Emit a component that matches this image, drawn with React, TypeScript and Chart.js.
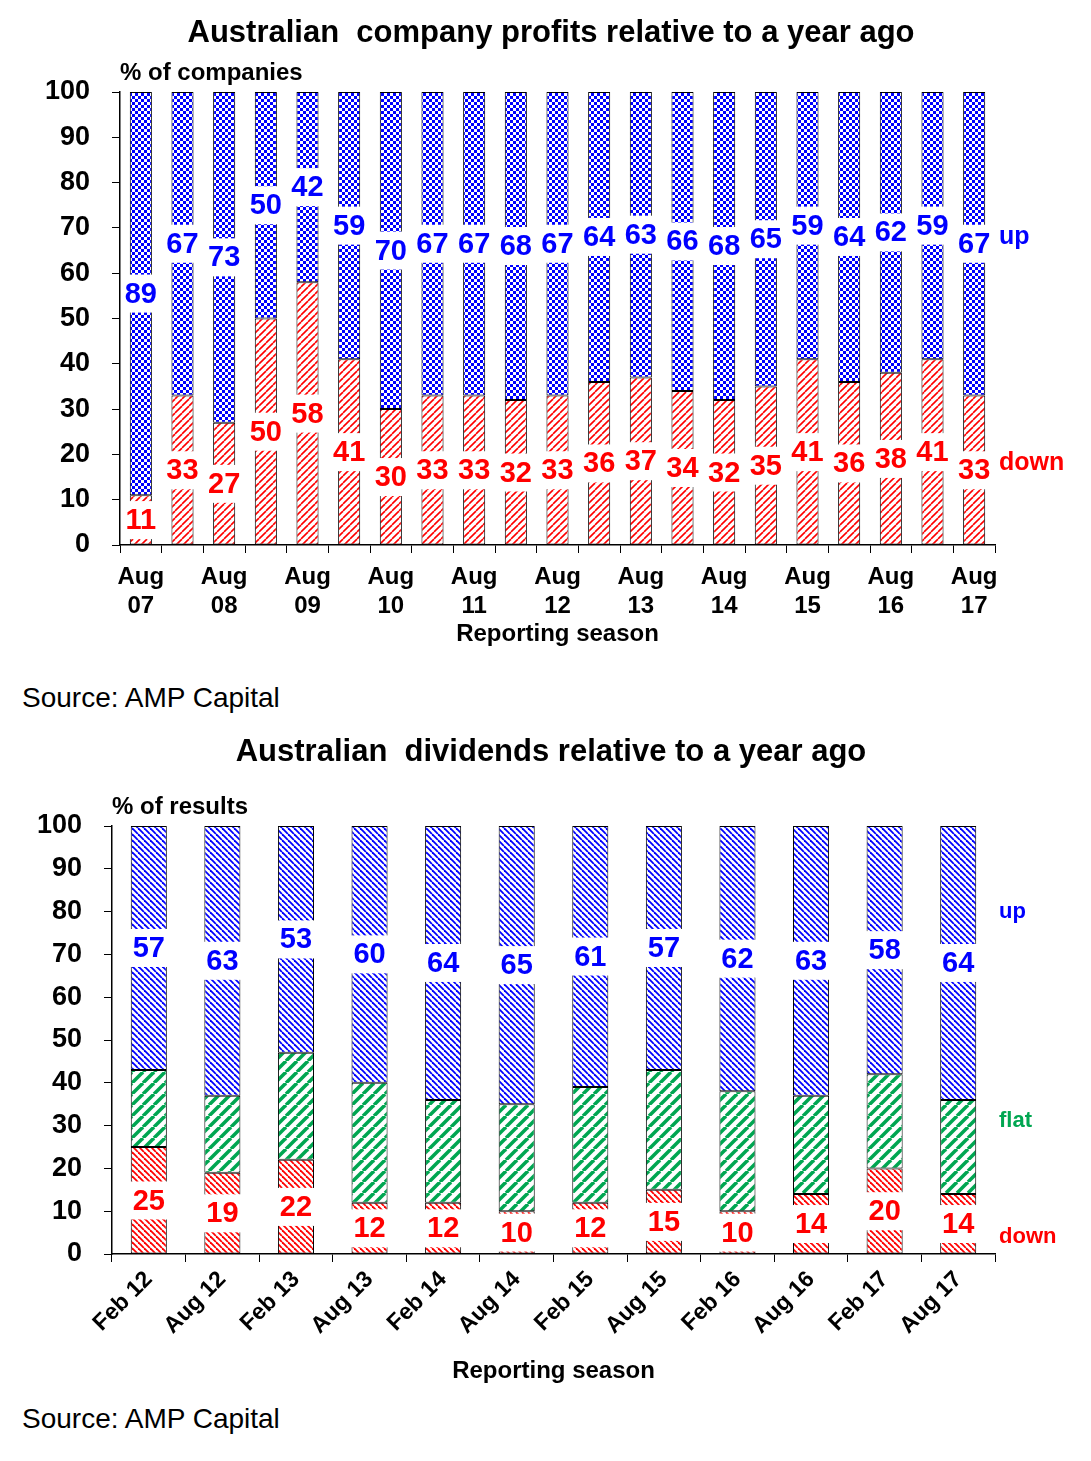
import React, { useEffect, useRef } from "react";
import { Chart, registerables } from "chart.js";
Chart.register(...registerables);

const topLabels = ["Aug 07","Feb 08","Aug 08","Feb 09","Aug 09","Feb 10","Aug 10","Feb 11","Aug 11","Feb 12","Aug 12","Feb 13","Aug 13","Feb 14","Aug 14","Feb 15","Aug 15","Feb 16","Aug 16","Feb 17","Aug 17"];
const topDown = [11,33,27,50,58,41,30,33,33,32,33,36,37,34,32,35,41,36,38,41,33];
const topUp = [89,67,73,50,42,59,70,67,67,68,67,64,63,66,68,65,59,64,62,59,67];

const botLabels = ["Feb 12","Aug 12","Feb 13","Aug 13","Feb 14","Aug 14","Feb 15","Aug 15","Feb 16","Aug 16","Feb 17","Aug 17"];
const botDown = [25,19,22,12,12,10,12,15,10,14,20,14];
const botFlat = [18,18,25,28,24,25,27,28,28,23,22,22];
const botUp = [57,63,53,60,64,65,61,57,62,63,58,64];

const yTicks = [0,10,20,30,40,50,60,70,80,90,100];
const FONT = "'Liberation Sans', Arial, sans-serif";
const BLUE = "#0000ff", RED = "#ff0000", GREEN = "#00a651";

function tile(s: number, draw: (c: CanvasRenderingContext2D) => void) {
  const cv = document.createElement("canvas");
  cv.width = s; cv.height = s;
  const c = cv.getContext("2d")!;
  c.fillStyle = "#fff"; c.fillRect(0, 0, s, s);
  draw(c);
  return c.createPattern(cv, "repeat")!;
}
function checker(color: string, cell: number) {
  return tile(cell * 2, (c) => {
    c.fillStyle = color;
    c.fillRect(0, 0, cell, cell);
    c.fillRect(cell, cell, cell, cell);
  });
}
function stripes(color: string, s: number, w: number, upRight: boolean) {
  return tile(s, (c) => {
    c.strokeStyle = color; c.lineWidth = w;
    for (const x0 of [-s, 0, s]) {
      c.beginPath();
      if (upRight) { c.moveTo(x0, s); c.lineTo(x0 + s, 0); }
      else { c.moveTo(x0, 0); c.lineTo(x0 + s, s); }
      c.stroke();
    }
  });
}

type LabelSpec = { color: string; values: number[]; pos: (i: number) => number };

function makeChart(canvas: HTMLCanvasElement, cfg: {
  labels: string[]; datasets: any[]; title: string; titleY: number; yTitle: string; yTitleX: number;
  left: number; right: number; top: number; xHeight: number; rotate: boolean; tickCb: (i: number) => any;
  barPct: number; labelSpecs: LabelSpec[]; sideLabels: { text: string; color: string; v: number; size: number }[];
  xFont: number; xPad: number;
}) {
  const plugin = {
    id: "custom",
    afterDatasetsDraw(chart: any) {
      const ctx = chart.ctx;
      const y = chart.scales.y, x = chart.scales.x;
      ctx.save();
      ctx.font = `bold 29px ${FONT}`;
      ctx.textAlign = "center"; ctx.textBaseline = "middle";
      for (const spec of cfg.labelSpecs) {
        spec.values.forEach((v, i) => {
          const px = x.getPixelForValue(i), py = y.getPixelForValue(spec.pos(i));
          const t = String(v);
          const w = ctx.measureText(t).width + 6;
          ctx.fillStyle = "#fff"; ctx.fillRect(px - w / 2, py - 19, w, 38);
          ctx.fillStyle = spec.color; ctx.fillText(t, px, py + 1);
        });
      }
      ctx.textAlign = "left";
      for (const s of cfg.sideLabels) {
        ctx.font = `bold ${s.size}px ${FONT}`;
        ctx.fillStyle = s.color;
        ctx.fillText(s.text, chart.chartArea.right + 4, y.getPixelForValue(s.v));
      }
      ctx.fillStyle = "#000";
      ctx.font = `bold 31px ${FONT}`;
      ctx.textAlign = "center";
      ctx.fillText(cfg.title, 551, cfg.titleY);
      ctx.font = `bold 24px ${FONT}`;
      ctx.textAlign = "left";
      ctx.fillText(cfg.yTitle, cfg.yTitleX, chart.chartArea.top - 19);
      ctx.restore();
    },
  };
  return new Chart(canvas, {
    type: "bar",
    data: { labels: cfg.labels, datasets: cfg.datasets },
    plugins: [plugin],
    options: {
      animation: false, responsive: false,
      layout: { padding: { top: cfg.top, right: 1091 - cfg.right, left: 0, bottom: 0 } },
      plugins: { legend: { display: false }, tooltip: { enabled: false } },
      datasets: { bar: { barPercentage: cfg.barPct, categoryPercentage: 1, borderColor: "#000", borderWidth: 1, borderSkipped: false } },
      scales: {
        x: {
          stacked: true,
          afterFit: (s: any) => { s.height = cfg.xHeight; },
          grid: { drawOnChartArea: false, drawTicks: true, tickLength: 8, color: "#000", offset: true },
          border: { color: "#000", width: 1.5 },
          ticks: {
            autoSkip: false, color: "#000", font: { family: FONT, size: cfg.xFont, weight: "bold" }, padding: cfg.xPad,
            maxRotation: cfg.rotate ? 45 : 0, minRotation: cfg.rotate ? 45 : 0,
            callback: (_v: any, i: number) => cfg.tickCb(i),
          },
          title: { display: true, text: "Reporting season", color: "#000", font: { family: FONT, size: 24, weight: "bold" }, padding: { top: 0 } },
        },
        y: {
          stacked: true, min: 0, max: 100,
          afterFit: (s: any) => { s.width = cfg.left; },
          afterBuildTicks: (s: any) => { s.ticks = yTicks.map((v) => ({ value: v })); },
          grid: { drawOnChartArea: false, drawTicks: true, tickLength: 8, color: "#000" },
          border: { color: "#000", width: 1.5 },
          ticks: { color: "#000", font: { family: FONT, size: 27, weight: "bold" }, padding: 22 },
        },
      },
    } as any,
  });
}

export default function App() {
  const r1 = useRef<HTMLCanvasElement>(null);
  const r2 = useRef<HTMLCanvasElement>(null);
  useEffect(() => {
    const c1 = makeChart(r1.current!, {
      labels: topLabels,
      datasets: [
        { data: topDown, backgroundColor: stripes(RED, 7, 1.6, true) },
        { data: topUp, backgroundColor: checker(BLUE, 3) },
      ],
      title: "Australian  company profits relative to a year ago", titleY: 33,
      yTitle: "% of companies", yTitleX: 120,
      left: 120, right: 995, top: 92, xHeight: 108, rotate: false, barPct: 0.53,
      xFont: 24, xPad: 10,
      tickCb: (i) => (i % 2 === 0 ? topLabels[i].split(" ") : ""),
      labelSpecs: [
        { color: RED, values: topDown, pos: (i) => topDown[i] / 2 },
        { color: BLUE, values: topUp, pos: (i) => (100 + topDown[i]) / 2 },
      ],
      sideLabels: [
        { text: "up", color: BLUE, v: 68, size: 25 },
        { text: "down", color: RED, v: 18, size: 25 },
      ],
    });
    const c2 = makeChart(r2.current!, {
      labels: botLabels,
      datasets: [
        { data: botDown, backgroundColor: stripes(RED, 6, 1.8, false) },
        { data: botFlat, backgroundColor: stripes(GREEN, 11, 3.5, true) },
        { data: botUp, backgroundColor: stripes(BLUE, 6, 1.8, false) },
      ],
      title: "Australian  dividends relative to a year ago", titleY: 32,
      yTitle: "% of results", yTitleX: 112,
      left: 112, right: 995, top: 106, xHeight: 136, rotate: true, barPct: 0.49,
      xFont: 23, xPad: 4,
      tickCb: (i) => botLabels[i],
      labelSpecs: [
        { color: RED, values: botDown, pos: (i) => botDown[i] / 2 },
        { color: BLUE, values: botUp, pos: (i) => (100 + botDown[i] + botFlat[i]) / 2 },
      ],
      sideLabels: [
        { text: "up", color: BLUE, v: 80, size: 22 },
        { text: "flat", color: GREEN, v: 31, size: 22 },
        { text: "down", color: RED, v: 4, size: 22 },
      ],
    });
    return () => { c1.destroy(); c2.destroy(); };
  }, []);
  const src: React.CSSProperties = { position: "absolute", left: 22, fontFamily: FONT, fontSize: 28, color: "#000", margin: 0 };
  return (
    <div style={{ position: "relative", width: 1091, height: 1461, margin: -8, background: "#fff" }}>
      <canvas ref={r1} width={1091} height={653} style={{ position: "absolute", left: 0, top: 0 }} />
      <div style={{ ...src, top: 682 }}>Source: AMP Capital</div>
      <canvas ref={r2} width={1091} height={670} style={{ position: "absolute", left: 0, top: 720 }} />
      <div style={{ ...src, top: 1403 }}>Source: AMP Capital</div>
    </div>
  );
}
